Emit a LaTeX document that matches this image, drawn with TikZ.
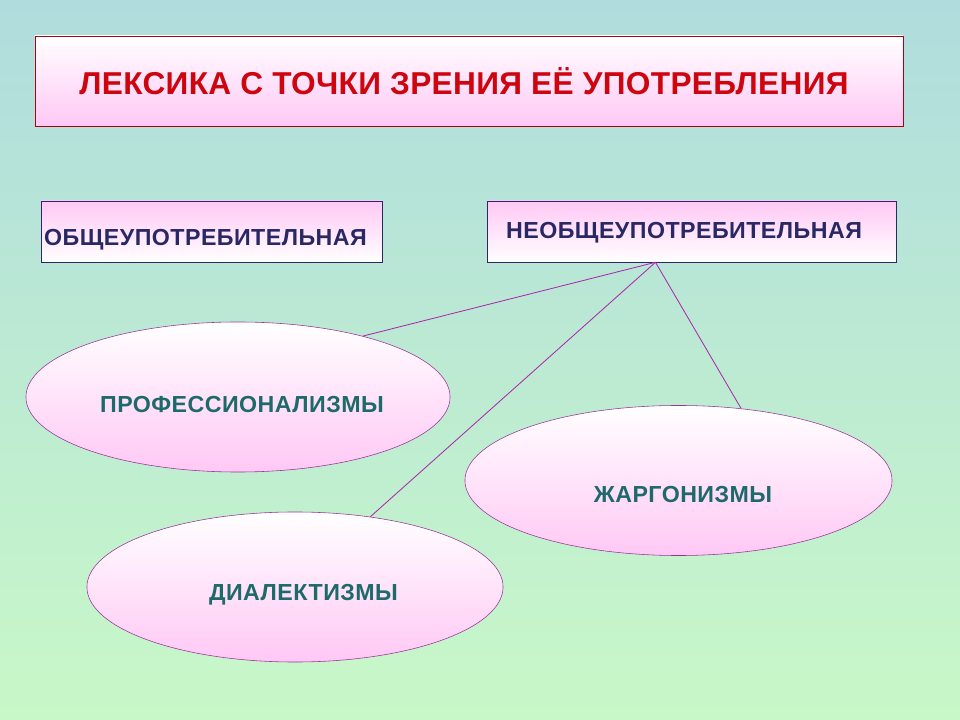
\documentclass[tikz,border=0pt]{standalone}
\usepackage{fontspec}
\setmainfont{Liberation Sans}
\usetikzlibrary{shapes.geometric}
\definecolor{bgtop}{RGB}{176,220,222}
\definecolor{bgbottom}{RGB}{200,248,200}
\definecolor{pinkish}{RGB}{255,200,245}
\definecolor{lilac}{RGB}{153,51,153}
\definecolor{boxnavy}{RGB}{40,40,100}
\definecolor{tealtext}{RGB}{30,105,105}
\definecolor{titlered}{RGB}{205,5,15}
\tikzset{
titlebox/.style={
	  draw=titlered!80!black, top color=white, bottom color=pinkish,
	    minimum width=21.7cm, minimum height=2.25cm, inner sep=0pt,
	    font=\bfseries\fontsize{22.5}{26}\selectfont\addfontfeature{LetterSpace=1},
	    text=titlered},
sortbox/.style={
	  draw=boxnavy, top color=pinkish, bottom color=white,
	    minimum height=1.525cm, inner sep=0pt,
	    font=\bfseries\fontsize{16.5}{19}\selectfont\addfontfeature{LetterSpace=2},
	    text=boxnavy},
variety/.style={
	  draw=lilac, ellipse, top color=white, bottom color=pinkish,
	    inner sep=0pt, minimum height=3.75cm,
	    font=\bfseries\fontsize{16.5}{19}\selectfont\addfontfeature{LetterSpace=2},
	    text=tealtext},
textat/.style 2 args={execute at begin node={\hspace*{#1}},
	  text height=#2, text depth=0pt},
branch/.style={draw=lilac!80!magenta, line width=0.6pt}
}

\begin{document}
\begin{tikzpicture}[x=0.025cm, y=-0.025cm]
	\fill[top color=bgtop, bottom color=bgbottom] (0,0) rectangle (960,720);
	\useasboundingbox (0,0) rectangle (960,720);
	% heading and the two kinds
	\node[titlebox, textat={-0.25cm}{19.7pt}] (lexis) at (469,81)
		{ЛЕКСИКА С ТОЧКИ ЗРЕНИЯ ЕЁ УПОТРЕБЛЕНИЯ};
	\node[sortbox, minimum width=8.525cm, textat={-0.3cm}{20.4pt}] (common)
		at (211.5,231.5) {ОБЩЕУПОТРЕБИТЕЛЬНАЯ};
	\node[sortbox, minimum width=10.225cm, textat={-0.375cm}{9.6pt}] (special)
		at (691.5,231.5) {НЕОБЩЕУПОТРЕБИТЕЛЬНАЯ};
	% the three groups
	\node[variety, minimum width=10.6cm, textat={0.2cm}{22.4pt}] (prof)
		at (238,397) {ПРОФЕССИОНАЛИЗМЫ};
	\node[variety, minimum width=10.675cm, textat={0.225cm}{31.7pt}] (jargon)
		at (678.5,480.5) {ЖАРГОНИЗМЫ};
	\node[variety, minimum width=10.4cm, textat={0.425cm}{19pt}] (dialect)
		at (295,587) {ДИАЛЕКТИЗМЫ};
	\coordinate (fork) at ([xshift=-0.9cm]special.south);
	\draw[branch] (fork) -- (prof.26);
	\draw[branch] (fork) -- (dialect.43);
	\draw[branch] (fork) -- (jargon.49);
\end{tikzpicture}
\end{document}
